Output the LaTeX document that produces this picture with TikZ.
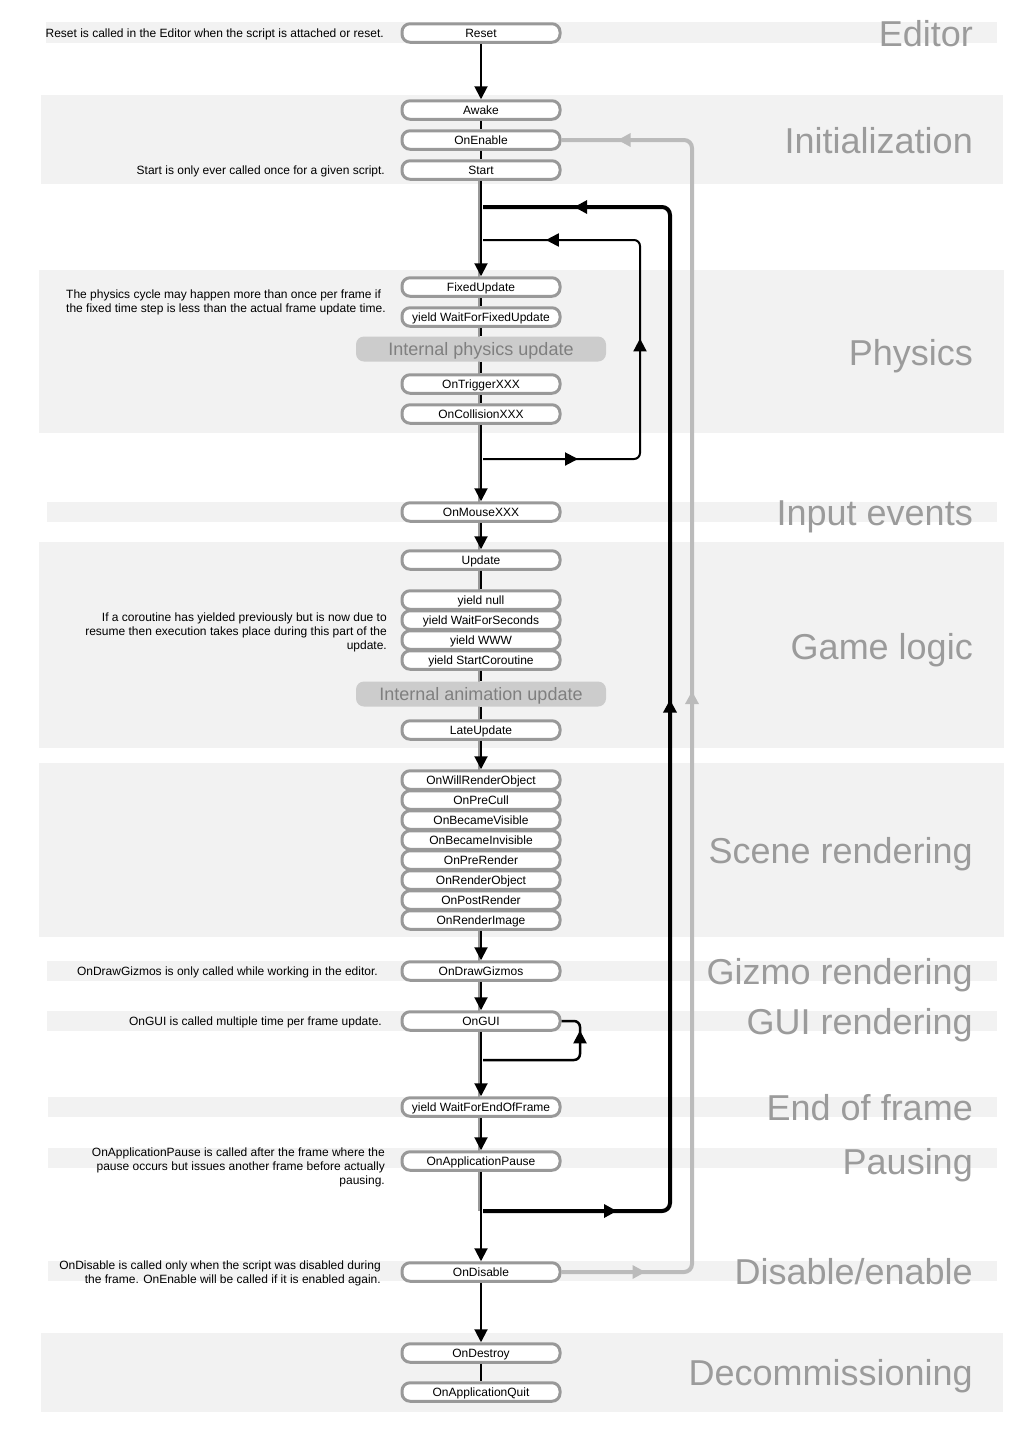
\documentclass[tikz,border=0pt]{standalone}
\usepackage{fontspec}
\setmainfont{Liberation Sans}
\usetikzlibrary{arrows.meta,decorations.markings}
\definecolor{bandgray}{HTML}{F2F2F2}
\definecolor{boxgray}{HTML}{999999}
\definecolor{headgray}{HTML}{9B9B9B}
\definecolor{innerfill}{HTML}{CCCCCC}
\definecolor{innertext}{HTML}{7F7F7F}
\definecolor{enablegray}{HTML}{BBBBBB}
\tikzset{
  fn/.style={draw=boxgray, line width=3pt, fill=white, rounded corners=8pt,
    minimum width=158pt, minimum height=18.5pt, inner sep=0pt,
    text height=9.5pt, text depth=1pt, font=\fontsize{12}{13}\selectfont},
  internal/.style={fill=innerfill, rounded corners=8pt, minimum width=250pt,
    minimum height=25pt, inner sep=0pt, text=innertext,
    text height=13.5pt, text depth=1.5pt, font=\fontsize{18}{19}\selectfont},
  band/.style={fill=bandgray},
  head/.style={anchor=base east, text=headgray, inner sep=0pt,
    font=\fontsize{36}{40}\selectfont},
  note/.style={anchor=east, align=right, inner sep=0pt,
    font=\fontsize{12}{14}\selectfont},
  flow/.style={line width=2pt, -{Triangle[width=13pt,length=13pt]}},
  link/.style={line width=2pt},
  backline/.style={line width=2pt, boxgray},
  looptip/.tip={Triangle[width=13pt,length=13pt]}
}
\begin{document}
\begin{tikzpicture}[x=1pt,y=-1pt]
  \useasboundingbox (0,0) rectangle (1029,1438);
  % bands
  \fill[band] (46,22) rectangle (997,43);
  \fill[band] (41,95) rectangle (1003,184);
  \fill[band] (39,270) rectangle (1004,433);
  \fill[band] (47,502) rectangle (997,522);
  \fill[band] (39,542) rectangle (1004,748);
  \fill[band] (39,763) rectangle (1004,937);
  \fill[band] (47,961) rectangle (997,981);
  \fill[band] (47,1011) rectangle (997,1031);
  \fill[band] (48,1097) rectangle (997,1117);
  \fill[band] (48,1148) rectangle (997,1168);
  \fill[band] (48,1261) rectangle (997,1281);
  \fill[band] (41,1333) rectangle (1003,1412);
  % headings
  \node[head] (hEditor) at (973,46) {Editor};
  \node[head] (hInit) at (973,153) {Initialization};
  \node[head] (hPhysics) at (973,365) {Physics};
  \node[head] (hInput) at (973,525) {Input events};
  \node[head] (hGame) at (973,659) {Game logic};
  \node[head] (hScene) at (973,863) {Scene rendering};
  \node[head] (hGizmo) at (973,984) {Gizmo rendering};
  \node[head] (hGUI) at (973,1034) {GUI rendering};
  \node[head] (hEnd) at (973,1120) {End of frame};
  \node[head] (hPause) at (973,1174) {Pausing};
  \node[head] (hDisable) at (973,1284) {Disable/enable};
  \node[head] (hDecom) at (973,1385) {Decommissioning};
  % notes
  \node[note] (nReset) at (384,34) {Reset is called in the Editor when the script is attached or reset.};
  \node[note] (nStart) at (385,171) {Start is only ever called once for a given script.};
  \node[note, anchor=west, align=left] (nPhysics) at (66,302) {The physics cycle may happen more than once per frame if\\the fixed time step is less than the actual frame update time.};
  \node[note] (nCoroutine) at (387,632) {If a coroutine has yielded previously but is now due to\\resume then execution takes place during this part of the\\update.};
  \node[note] (nGizmos) at (378,972) {OnDrawGizmos is only called while working in the editor.};
  \node[note] (nGUI) at (382,1022) {OnGUI is called multiple time per frame update.};
  \node[note] (nPause) at (385,1167) {OnApplicationPause is called after the frame where the\\pause occurs but issues another frame before actually\\pausing.};
  \node[note] (nDisable) at (381,1273) {OnDisable is called only when the script was disabled during\\the frame. OnEnable will be called if it is enabled again.};
  % gray line beside the main flow
  \coordinate (gtop) at (478.5,181);
  \coordinate (gbot) at (478.5,1211);
  \draw[backline] (gtop) -- (gbot);
  % events
  \node[fn] (reset) at (481,33) {Reset};
  \node[fn] (awake) at (481,110) {Awake};
  \node[fn] (onenable) at (481,140) {OnEnable};
  \node[fn] (start) at (481,170) {Start};
  \node[fn] (fixedupdate) at (481,287) {FixedUpdate};
  \node[fn] (waitfixed) at (481,317) {yield WaitForFixedUpdate};
  \node[internal] (physupd) at (481,349) {Internal physics update};
  \node[fn] (ontrigger) at (481,384) {OnTriggerXXX};
  \node[fn] (oncollision) at (481,414) {OnCollisionXXX};
  \node[fn] (onmouse) at (481,512) {OnMouseXXX};
  \node[fn] (update) at (481,560) {Update};
  \node[fn] (ynull) at (481,600) {yield null};
  \node[fn] (ywait) at (481,620) {yield WaitForSeconds};
  \node[fn] (ywww) at (481,640) {yield WWW};
  \node[fn] (ystart) at (481,660) {yield StartCoroutine};
  \node[internal] (animupd) at (481,694) {Internal animation update};
  \node[fn] (lateupdate) at (481,730) {LateUpdate};
  \node[fn] (willrender) at (481,780) {OnWillRenderObject};
  \node[fn] (precull) at (481,800) {OnPreCull};
  \node[fn] (becvis) at (481,820) {OnBecameVisible};
  \node[fn] (becinvis) at (481,840) {OnBecameInvisible};
  \node[fn] (prerender) at (481,860) {OnPreRender};
  \node[fn] (renderobj) at (481,880) {OnRenderObject};
  \node[fn] (postrender) at (481,900) {OnPostRender};
  \node[fn] (renderimg) at (481,920) {OnRenderImage};
  \node[fn] (gizmos) at (481,971) {OnDrawGizmos};
  \node[fn] (ongui) at (481,1021) {OnGUI};
  \node[fn] (endframe) at (481,1107) {yield WaitForEndOfFrame};
  \node[fn] (apppause) at (481,1161) {OnApplicationPause};
  \node[fn] (ondisable) at (481,1272) {OnDisable};
  \node[fn] (ondestroy) at (481,1353) {OnDestroy};
  \node[fn] (appquit) at (481,1392) {OnApplicationQuit};
  % main flow
  \draw[flow] (reset) -- (awake);
  \draw[link] (awake) -- (onenable);
  \draw[link] (onenable) -- (start);
  \draw[flow] (start) -- (fixedupdate);
  \draw[link] (fixedupdate) -- (waitfixed);
  \draw[link] (waitfixed) -- (physupd);
  \draw[link] (physupd) -- (ontrigger);
  \draw[link] (ontrigger) -- (oncollision);
  \draw[flow] (oncollision) -- (onmouse);
  \draw[flow] (onmouse) -- (update);
  \draw[link] (update) -- (ynull);
  \draw[link] (ystart) -- (animupd);
  \draw[link] (animupd) -- (lateupdate);
  \draw[flow] (lateupdate) -- (willrender);
  \draw[flow] (renderimg) -- (gizmos);
  \draw[flow] (gizmos) -- (ongui);
  \draw[flow] (ongui) -- (endframe);
  \draw[flow] (endframe) -- (apppause);
  \draw[flow] (apppause) -- (ondisable);
  \draw[flow] (ondisable) -- (ondestroy);
  \draw[link] (ondestroy) -- (appquit);
  % physics loop
  \coordinate (pl1) at (483,459);
  \coordinate (pl2) at (640,459);
  \coordinate (pl3) at (640,240);
  \coordinate (pl4) at (483,240);
  \draw[line width=2pt, rounded corners=6pt, postaction={decorate},
    decoration={markings,
      mark=at position 95pt with {\arrow{looptip}},
      mark=at position 275pt with {\arrow{looptip}},
      mark=at position 465pt with {\arrow{looptip}}}]
    (pl1) -- (pl2) -- (pl3) -- (pl4);
  % frame loop
  \coordinate (fl1) at (483,1211);
  \coordinate (fl2) at (670,1211);
  \coordinate (fl3) at (670,207);
  \coordinate (fl4) at (483,207);
  \draw[line width=4pt, rounded corners=8pt, postaction={decorate},
    decoration={markings,
      mark=at position 134pt with {\arrow{looptip}},
      mark=at position 695pt with {\arrow{looptip}},
      mark=at position 1280pt with {\arrow{looptip}}}]
    (fl1) -- (fl2) -- (fl3) -- (fl4);
  % enable loop
  \coordinate (el1) at (692,1272);
  \coordinate (el2) at (692,140);
  \draw[enablegray, line width=4pt, rounded corners=8pt, postaction={decorate},
    decoration={markings,
      mark=at position 84pt with {\arrow{looptip}},
      mark=at position 708pt with {\arrow{looptip}},
      mark=at position 1330pt with {\arrow{looptip}}}]
    (ondisable.east) -- (el1) -- (el2) -- (onenable.east);
  % gui loop
  \coordinate (gl1) at (483,1060);
  \coordinate (gl2) at (580,1060);
  \coordinate (gl3) at (580,1021);
  \draw[line width=2.5pt, rounded corners=6pt, postaction={decorate},
    decoration={markings,
      mark=at position 124pt with {\arrow{looptip}}}]
    (gl1) -- (gl2) -- (gl3) -- (ongui.east);
\end{tikzpicture}
\end{document}
